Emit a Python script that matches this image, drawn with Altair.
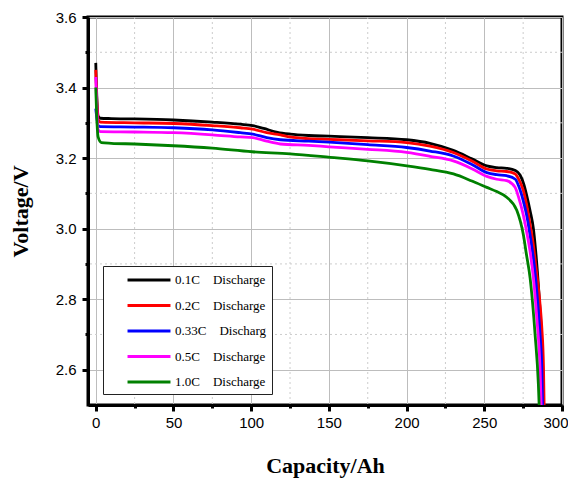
import altair as alt
import pandas as pd

NB = "\u00a0"
series = [
    "0.1C" + NB * 4 + "Discharge" + NB * 2,
    "0.2C" + NB * 4 + "Discharge" + NB * 2,
    "0.33C" + NB * 4 + "Discharg" + NB * 2,
    "0.5C" + NB * 4 + "Discharge" + NB * 2,
    "1.0C" + NB * 4 + "Discharge" + NB * 2,
]
colors = ["#000000", "#ff0000", "#0000ff", "#ff00ff", "#008000"]

cap_01 = [0, 0.8, 1.5, 3, 10, 25, 50, 75, 93, 101, 108, 117, 125, 137, 150, 175, 200, 215, 230, 242,
          251.6, 258, 264.4, 270, 273, 275.5, 277.3, 279.5, 281.6, 283, 284.8, 286, 286.8, 287.5, 288]
volt_01 = [3.47, 3.36, 3.32, 3.313, 3.312, 3.311, 3.308, 3.302, 3.296, 3.292, 3.284, 3.273, 3.268, 3.264,
           3.262, 3.258, 3.252, 3.242, 3.222, 3.198, 3.178, 3.173, 3.171, 3.165, 3.152, 3.125, 3.094,
           3.05, 3.0, 2.94, 2.84, 2.76, 2.70, 2.6, 2.5]

cap_02 = [0, 0.8, 1.5, 3, 25, 50, 75, 93, 101, 110, 118.8, 125, 137, 150, 175, 200, 215, 230, 242,
          251.6, 258, 264.4, 270, 272, 275, 277.3, 279.5, 281.6, 283, 285.9, 287, 288.1, 288.5]
volt_02 = [3.45, 3.35, 3.31, 3.302, 3.300, 3.298, 3.292, 3.286, 3.282, 3.272, 3.266, 3.260, 3.255,
           3.253, 3.249, 3.244, 3.234, 3.216, 3.192, 3.169, 3.164, 3.162, 3.155, 3.141, 3.11, 3.066,
           3.01, 2.953, 2.90, 2.784, 2.72, 2.606, 2.5]

cap_033 = [0, 0.8, 1.5, 3, 25, 50, 75, 93, 101, 110, 118.8, 137, 150, 175, 200, 215, 230, 242, 251.6,
           258, 264.4, 270, 272, 275, 277.3, 279.5, 281.6, 283, 284.8, 286, 287, 287.5]
volt_033 = [3.34, 3.31, 3.292, 3.289, 3.288, 3.286, 3.280, 3.272, 3.268, 3.258, 3.252, 3.248, 3.245,
            3.238, 3.230, 3.220, 3.206, 3.182, 3.159, 3.153, 3.150, 3.14, 3.122, 3.08, 3.037, 2.98,
            2.916, 2.86, 2.766, 2.69, 2.606, 2.5]

cap_05 = [0, 0.8, 1.5, 3, 25, 50, 75, 93, 101, 110, 118.8, 137, 150, 175, 200, 215, 230, 242, 251.6,
          258, 264.4, 269.8, 272, 275.2, 277.3, 279.5, 281.6, 283.8, 285.9, 286.6]
volt_05 = [3.43, 3.33, 3.28, 3.275, 3.274, 3.272, 3.266, 3.260, 3.258, 3.248, 3.240, 3.236, 3.232,
           3.225, 3.216, 3.205, 3.192, 3.170, 3.148, 3.140, 3.136, 3.117, 3.09, 3.037, 2.99, 2.934,
           2.86, 2.746, 2.6, 2.5]

cap_10 = [0, 0.8, 1.5, 3.6, 10, 25, 50, 75, 100.6, 125, 150.9, 175, 200.2, 215, 230.2, 242, 251.6, 258,
          264.4, 270.9, 275.2, 277, 279.5, 282.7, 284.8, 285.3]
volt_10 = [3.40, 3.30, 3.26, 3.244, 3.242, 3.240, 3.235, 3.228, 3.218, 3.212, 3.202, 3.192, 3.178,
           3.168, 3.155, 3.135, 3.117, 3.105, 3.089, 3.052, 2.981, 2.93, 2.859, 2.699, 2.558, 2.5]

major_x = [0, 50, 100, 150, 200, 250, 300]
minor_x = [25, 75, 125, 175, 225, 275]
major_y = [2.6, 2.8, 3.0, 3.2, 3.4, 3.6]
minor_y = [2.7, 2.9, 3.1, 3.3, 3.5]

caps = [cap_01, cap_02, cap_033, cap_05, cap_10]
volts = [volt_01, volt_02, volt_033, volt_05, volt_10]

rows = []
for name, cs, vs in zip(series, caps, volts):
    for i, (c, v) in enumerate(zip(cs, vs)):
        rows.append({"series": name, "cap": c, "volt": v, "idx": i})
lines_df = pd.DataFrame(rows)

x_scale = alt.Scale(domain=[-5, 300], nice=False, zero=False)
y_scale = alt.Scale(domain=[2.5, 3.6], nice=False, zero=False)

label_font = "Liberation Sans"
serif = "Liberation Serif"

# minor vertical grid + minor x ticks
minor_v = alt.Chart(pd.DataFrame({"cap": minor_x})).mark_rule(
    color="#cccccc", strokeWidth=1, strokeDash=[2, 3]
).encode(
    x=alt.X("cap:Q", scale=x_scale,
            axis=alt.Axis(orient="bottom", values=minor_x, labels=False, title=None, grid=False,
                          domain=False, tickSize=3, tickWidth=3, tickColor="black"))
)
# minor horizontal grid + minor y ticks
minor_h = alt.Chart(pd.DataFrame({"volt": minor_y})).mark_rule(
    color="#cccccc", strokeWidth=1, strokeDash=[2, 3]
).encode(
    y=alt.Y("volt:Q", scale=y_scale,
            axis=alt.Axis(orient="left", values=minor_y, labels=False, title=None, grid=False,
                          domain=False, tickSize=3, tickWidth=3, tickColor="black"))
)

lines = alt.Chart(lines_df).mark_line(strokeWidth=2.8, interpolate="monotone", clip=True).encode(
    x=alt.X("cap:Q", scale=x_scale,
            axis=alt.Axis(orient="bottom", values=major_x, format="d", title="Capacity/Ah",
                          grid=True, gridColor="#bdbdbd", gridWidth=1,
                          labelFlush=True, labelFlushOffset=6,
                          domain=True, domainColor="black", domainWidth=3,
                          tickSize=6, tickWidth=3, tickColor="black",
                          labelFont=label_font, labelFontSize=15, labelColor="black", labelPadding=4,
                          titleFont=serif, titleFontSize=22, titleFontWeight="bold", titleColor="black",
                          titlePadding=25)),
    y=alt.Y("volt:Q", scale=y_scale,
            axis=alt.Axis(orient="left", values=major_y, format=".1f", title="Voltage/V",
                          grid=True, gridColor="#bdbdbd", gridWidth=1, labelFlush=False,
                          domain=True, domainColor="black", domainWidth=3,
                          tickSize=6, tickWidth=3, tickColor="black",
                          labelFont=label_font, labelFontSize=15, labelColor="black", labelPadding=6,
                          titleFont=serif, titleFontSize=22, titleFontWeight="bold", titleColor="black",
                          titlePadding=23)),
    color=alt.Color("series:N", scale=alt.Scale(domain=series, range=colors), title=None,
                    legend=alt.Legend(orient="none", legendX=15, legendY=249,
                                      symbolType="M-3,0H3", symbolSize=205, symbolStrokeWidth=3,
                                      symbolOffset=32, labelOffset=17,
                                      labelFont=serif, labelFontSize=13, labelColor="black",
                                      rowPadding=9.5, padding=5,
                                      strokeColor="#222222", fillColor="white")),
    order="idx:Q",
)

chart = alt.layer(minor_v, minor_h, lines).resolve_axis(
    x="independent", y="independent"
).properties(
    width=474, height=388,
    autosize=alt.AutoSizeParams(type="none"),
    padding={"left": 80, "top": 9, "right": 6, "bottom": 75},
).configure_view(
    stroke="black", strokeWidth=3
)

chart.save("out.html", embed_options={"renderer": "svg", "actions": False})
